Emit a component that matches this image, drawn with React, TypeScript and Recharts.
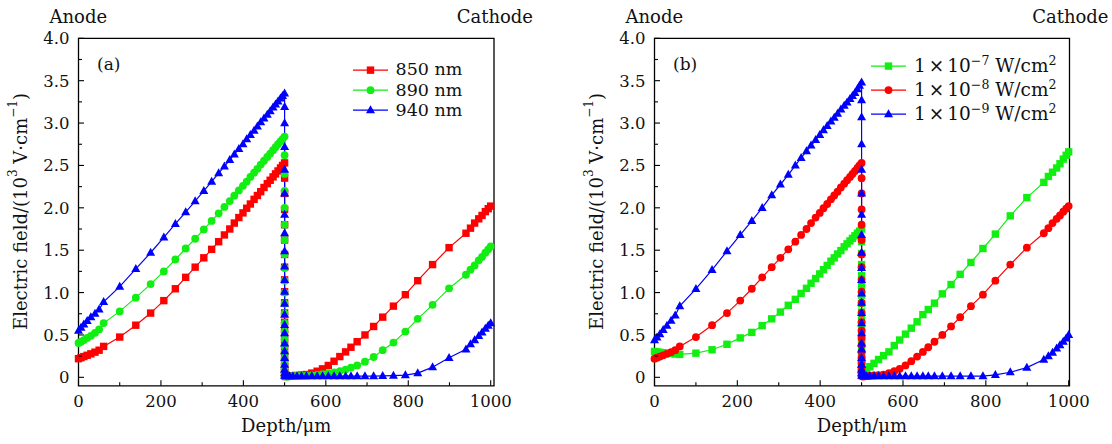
import type { ReactNode } from "react";
import { Legend, Line, LineChart, ReferenceArea, XAxis, YAxis } from "recharts";

// depth grid of the simulation (µm): anode side, the jump at 500, cathode side
const leftDepth = [
  0, 6, 13, 21, 30, 40, 50, 61, 100, 139, 175, 207, 235, 260, 283, 304, 323,
  340, 354, 367, 378, 389, 399, 408, 417, 426, 434, 442, 450, 458, 465, 472,
  478, 484, 490, 495, 500,
];
const dropDepth = [
  500, 500, 500, 500, 500, 500, 500, 500, 500, 500, 500, 500, 500, 500, 500,
  500, 500, 500, 500, 500, 500, 500,
];
const rightDepth = [
  503, 507, 512, 520, 530, 541, 553, 566, 579, 592, 606, 620, 634, 648, 661,
  676, 695, 716, 738, 764, 793, 823, 859, 899, 940, 951, 961, 971, 979, 987,
  994, 1000,
];
const depth = [...leftDepth, ...dropDepth, ...rightDepth];

// (a) wavelength, 10^3 V/cm
const nm850 = [
  0.22, 0.232, 0.245, 0.26, 0.277, 0.297, 0.32, 0.365, 0.475, 0.615, 0.758,
  0.905, 1.045, 1.18, 1.3, 1.41, 1.51, 1.6, 1.68, 1.75, 1.82, 1.885, 1.94,
  1.995, 2.045, 2.1, 2.145, 2.19, 2.24, 2.285, 2.325, 2.365, 2.4, 2.435, 2.47,
  2.5, 2.53,
  2.35, 2.17, 1.98, 1.8, 1.62, 1.45, 1.3, 1.15, 1.01, 0.88, 0.76, 0.65, 0.55,
  0.46, 0.38, 0.3, 0.23, 0.17, 0.12, 0.08, 0.05, 0.02,
  0.01, 0.012, 0.015, 0.018, 0.022, 0.027, 0.033, 0.05, 0.072, 0.1, 0.14, 0.19,
  0.245, 0.3, 0.355, 0.42, 0.5, 0.6, 0.71, 0.84, 0.975, 1.14, 1.33, 1.53, 1.7,
  1.76, 1.82, 1.87, 1.91, 1.955, 1.99, 2.02,
];
const nm890 = [
  0.405, 0.42, 0.44, 0.465, 0.49, 0.525, 0.565, 0.64, 0.778, 0.94, 1.1, 1.25,
  1.39, 1.52, 1.635, 1.745, 1.845, 1.935, 2.01, 2.08, 2.143, 2.205, 2.26, 2.31,
  2.365, 2.415, 2.46, 2.51, 2.555, 2.6, 2.64, 2.68, 2.715, 2.75, 2.785, 2.81,
  2.84,
  2.62, 2.4, 2.2, 2.0, 1.8, 1.62, 1.45, 1.29, 1.14, 1.0, 0.87, 0.75, 0.64, 0.54,
  0.45, 0.37, 0.29, 0.22, 0.16, 0.1, 0.06, 0.02,
  0.01, 0.01, 0.012, 0.014, 0.016, 0.018, 0.02, 0.024, 0.03, 0.036, 0.048,
  0.058, 0.074, 0.092, 0.115, 0.14, 0.185, 0.24, 0.32, 0.41, 0.54, 0.69, 0.855,
  1.05, 1.21, 1.27, 1.32, 1.38, 1.42, 1.47, 1.51, 1.545,
];
const nm940 = [
  0.55, 0.585, 0.625, 0.665, 0.71, 0.75, 0.8, 0.89, 1.07, 1.28, 1.47, 1.65,
  1.81, 1.95, 2.08, 2.2, 2.31, 2.41, 2.49, 2.565, 2.63, 2.695, 2.75, 2.81, 2.86,
  2.91, 2.96, 3.01, 3.055, 3.1, 3.14, 3.185, 3.22, 3.255, 3.29, 3.32, 3.35,
  3.19, 3.0, 2.72, 2.45, 2.17, 1.92, 1.7, 1.49, 1.31, 1.15, 1.01, 0.87, 0.74,
  0.62, 0.52, 0.4, 0.31, 0.23, 0.15, 0.09, 0.05, 0.02,
  0.015, 0.015, 0.015, 0.015, 0.015, 0.015, 0.015, 0.015, 0.015, 0.015, 0.015,
  0.015, 0.015, 0.015, 0.015, 0.015, 0.015, 0.015, 0.018, 0.02, 0.025, 0.05,
  0.12, 0.23, 0.33, 0.39, 0.44, 0.49, 0.53, 0.575, 0.61, 0.64,
];

// (b) light intensity
const w1e7 = [
  0.305, 0.3, 0.295, 0.29, 0.285, 0.28, 0.275, 0.27, 0.285, 0.325, 0.39, 0.465,
  0.53, 0.61, 0.69, 0.77, 0.85, 0.92, 0.99, 1.05, 1.11, 1.165, 1.22, 1.27, 1.32,
  1.37, 1.41, 1.455, 1.495, 1.54, 1.575, 1.61, 1.64, 1.67, 1.7, 1.725, 1.75,
  1.6, 1.46, 1.33, 1.2, 1.08, 0.97, 0.87, 0.77, 0.68, 0.6, 0.52, 0.45, 0.39,
  0.33, 0.28, 0.23, 0.19, 0.15, 0.12, 0.09, 0.07, 0.05,
  0.05, 0.07, 0.09, 0.125, 0.165, 0.21, 0.255, 0.3, 0.375, 0.44, 0.51, 0.58,
  0.655, 0.74, 0.8, 0.875, 0.985, 1.095, 1.215, 1.355, 1.52, 1.69, 1.905, 2.12,
  2.3, 2.37, 2.42, 2.47, 2.52, 2.575, 2.62, 2.66,
];
// 1e-8 W/cm2 is the same curve as 850 nm
const w1e8 = nm850;
const w1e9 = [
  0.44, 0.47, 0.51, 0.56, 0.61, 0.67, 0.73, 0.84, 1.044, 1.268, 1.49, 1.68,
  1.845, 2.0, 2.15, 2.275, 2.39, 2.5, 2.59, 2.67, 2.735, 2.8, 2.86, 2.915,
  2.965, 3.02, 3.065, 3.11, 3.16, 3.205, 3.245, 3.285, 3.32, 3.355, 3.4, 3.44,
  3.48,
  3.27, 3.07, 2.75, 2.45, 2.17, 1.92, 1.68, 1.47, 1.29, 1.15, 0.99, 0.88, 0.76,
  0.64, 0.52, 0.4, 0.33, 0.23, 0.15, 0.09, 0.05, 0.02,
  0.015, 0.015, 0.015, 0.015, 0.015, 0.015, 0.015, 0.015, 0.015, 0.015, 0.015,
  0.015, 0.015, 0.015, 0.015, 0.015, 0.015, 0.015, 0.015, 0.015, 0.015, 0.03,
  0.06, 0.115, 0.21, 0.25, 0.29, 0.34, 0.38, 0.42, 0.46, 0.5,
];

const xTicks = [0, 100, 200, 300, 400, 500, 600, 700, 800, 900, 1000];
const yTicks = [
  0, 0.25, 0.5, 0.75, 1, 1.25, 1.5, 1.75, 2, 2.25, 2.5, 2.75, 3, 3.25, 3.5,
  3.75, 4,
];

const RED = "#ff0000";
const GREEN = "#11ee11";
const BLUE = "#0000ff";
const FONT = '"DejaVu Serif", serif';

type Shape = "square" | "circle" | "triangle";
type Series = {
  key: string;
  name: ReactNode;
  color: string;
  shape: Shape;
  values: number[];
};

const sup = (s: string) => (
  <sup style={{ fontSize: "0.68em", verticalAlign: "super", lineHeight: 0 }}>
    {s}
  </sup>
);
const times = <span style={{ margin: "0 3px" }}>×</span>;

const seriesA: Series[] = [
  { key: "nm850", name: "850 nm", color: RED, shape: "square", values: nm850 },
  { key: "nm890", name: "890 nm", color: GREEN, shape: "circle", values: nm890 },
  { key: "nm940", name: "940 nm", color: BLUE, shape: "triangle", values: nm940 },
];
const seriesB: Series[] = [
  {
    key: "w1e7",
    name: <>1{times}10{sup("−7")} W/cm{sup("2")}</>,
    color: GREEN,
    shape: "square",
    values: w1e7,
  },
  {
    key: "w1e8",
    name: <>1{times}10{sup("−8")} W/cm{sup("2")}</>,
    color: RED,
    shape: "circle",
    values: w1e8,
  },
  {
    key: "w1e9",
    name: <>1{times}10{sup("−9")} W/cm{sup("2")}</>,
    color: BLUE,
    shape: "triangle",
    values: w1e9,
  },
];

function Marker({ cx, cy, shape, color }: { cx?: number; cy?: number; shape: Shape; color: string }) {
  if (cx == null || cy == null) return null;
  if (shape === "square")
    return <rect x={cx - 3.7} y={cy - 3.7} width={7.4} height={7.4} fill={color} />;
  if (shape === "circle") return <circle cx={cx} cy={cy} r={3.9} fill={color} />;
  return (
    <path
      d={`M${cx},${cy - 4.9}L${cx + 4.5},${cy + 3.1}L${cx - 4.5},${cy + 3.1}Z`}
      fill={color}
    />
  );
}

function YTick(props: any) {
  const { x, y, payload } = props;
  const v = payload.value as number;
  const major = Math.abs(v * 2 - Math.round(v * 2)) < 1e-6;
  const axisX = x + 9;
  return (
    <g>
      <line x1={axisX} x2={axisX + (major ? 5.5 : 3.5)} y1={y} y2={y} stroke="#000" strokeWidth={1.1} />
      {major && (
        <text x={x} y={y} dy="0.36em" textAnchor="end" fontSize={16.5} fontFamily={FONT} fill="#111">
          {v === 0 ? "0" : v.toFixed(1)}
        </text>
      )}
    </g>
  );
}

function XTick(props: any) {
  const { x, y, payload } = props;
  const v = payload.value as number;
  const major = v % 200 === 0;
  return (
    <g>
      <line x1={x} x2={x} y1={y} y2={y - (major ? 5.5 : 3.5)} stroke="#000" strokeWidth={1.1} />
      {major && (
        <text x={x} y={y + 21} textAnchor="middle" fontSize={16.5} fontFamily={FONT} fill="#111">
          {v}
        </text>
      )}
    </g>
  );
}

function LegendBox({ series, rowH, fontSize }: { series: Series[]; rowH: number; fontSize: number }) {
  return (
    <div style={{ fontFamily: FONT, fontSize, color: "#111" }}>
      {series.map((s) => (
        <div key={s.key} style={{ display: "flex", alignItems: "center", height: rowH, whiteSpace: "nowrap" }}>
          <svg width={35} height={rowH}>
            <line x1={0} x2={35} y1={rowH / 2} y2={rowH / 2} stroke={s.color} strokeWidth={1.3} />
            <Marker cx={17.5} cy={rowH / 2} shape={s.shape} color={s.color} />
          </svg>
          <span style={{ marginLeft: 8, lineHeight: 1 }}>{s.name}</span>
        </div>
      ))}
    </div>
  );
}

type PanelProps = {
  left: number;
  plotLeft: number;
  plotRight: number;
  xMax: number;
  series: Series[];
  tag: string;
  legendLeft: number;
  legendTop: number;
  rowH: number;
  legendFont: number;
  titleX: number;
};

function Panel(p: PanelProps) {
  const W = 556;
  const H = 444;
  const top = 38.3;
  const plotBottom = 385.8;
  const yAxisW = 60;
  const xAxisH = 30;
  const yMin = -0.1;

  const data = depth.map((d, i) => {
    const row: { [k: string]: number } = { depth: d };
    for (const s of p.series) row[s.key] = s.values[i];
    return row;
  });

  const midX = (p.plotLeft + p.plotRight) / 2;

  return (
    <div style={{ position: "absolute", left: p.left, top: 0, width: W, height: H }}>
      <LineChart
        width={W}
        height={H}
        data={data}
        margin={{
          top,
          left: p.plotLeft - yAxisW,
          right: W - p.plotRight,
          bottom: H - plotBottom - xAxisH,
        }}
      >
        <XAxis
          dataKey="depth"
          type="number"
          domain={[0, p.xMax]}
          ticks={xTicks}
          interval={0}
          height={xAxisH}
          axisLine={false}
          tickLine={false}
          tickSize={0}
          tickMargin={0}
          tick={<XTick />}
        />
        <YAxis
          type="number"
          domain={[yMin, 4]}
          ticks={yTicks}
          interval={0}
          width={yAxisW}
          axisLine={false}
          tickLine={false}
          tickSize={0}
          tickMargin={9}
          tick={<YTick />}
          allowDataOverflow
        />
        <Legend
          layout="vertical"
          align="center"
          verticalAlign="middle"
          wrapperStyle={{ left: p.legendLeft, top: p.legendTop, width: "auto" }}
          content={() => <LegendBox series={p.series} rowH={p.rowH} fontSize={p.legendFont} />}
        />
        {p.series.map((s) => (
          <Line
            key={s.key}
            dataKey={s.key}
            name={s.key}
            type="linear"
            stroke={s.color}
            strokeWidth={1.2}
            dot={(d: any) => (
              <Marker key={`${s.key}-${d.index}`} cx={d.cx} cy={d.cy} shape={s.shape} color={s.color} />
            )}
            activeDot={false}
            isAnimationActive={false}
          />
        ))}
        <ReferenceArea
          x1={0}
          x2={p.xMax}
          y1={yMin}
          y2={4}
          fill="none"
          stroke="#000"
          strokeWidth={1.3}
          ifOverflow="visible"
        />
      </LineChart>
      <svg
        width={W}
        height={H}
        style={{ position: "absolute", left: 0, top: 0, pointerEvents: "none" }}
        fontFamily={FONT}
        fill="#111"
      >
        <text x={p.plotLeft - 29} y={22.5} fontSize={18}>
          Anode
        </text>
        <text x={p.plotRight + 39} y={22.5} fontSize={18} textAnchor="end">
          Cathode
        </text>
        <text x={p.plotLeft + 18.5} y={70} fontSize={17}>
          {p.tag}
        </text>
        <text x={midX} y={432} fontSize={18} textAnchor="middle">
          Depth/μm
        </text>
        <text
          x={p.titleX}
          y={211.5}
          fontSize={18}
          textAnchor="middle"
          dominantBaseline="central"
          transform={`rotate(-90 ${p.titleX} 211.5)`}
        >
          Electric field/(10
          <tspan dy={-7} fontSize={12}>
            3
          </tspan>
          <tspan dy={7}> V·cm</tspan>
          <tspan dy={-7} fontSize={12}>
            −1
          </tspan>
          <tspan dy={7}>)</tspan>
        </text>
      </svg>
    </div>
  );
}

export default function App() {
  return (
    <div
      style={{
        position: "absolute",
        left: 0,
        top: 0,
        width: 1112,
        height: 444,
        background: "#fff",
        overflow: "hidden",
      }}
    >
      <Panel
        left={0}
        plotLeft={78.5}
        plotRight={494}
        xMax={1008}
        series={seriesA}
        tag="(a)"
        legendLeft={352.5}
        legendTop={59.9}
        rowH={20.3}
        legendFont={17.5}
        titleX={20}
      />
      <Panel
        left={556}
        plotLeft={98.5}
        plotRight={513.5}
        xMax={1002}
        series={seriesB}
        tag="(b)"
        legendLeft={315}
        legendTop={53.7}
        rowH={24.2}
        legendFont={18.5}
        titleX={40}
      />
    </div>
  );
}
